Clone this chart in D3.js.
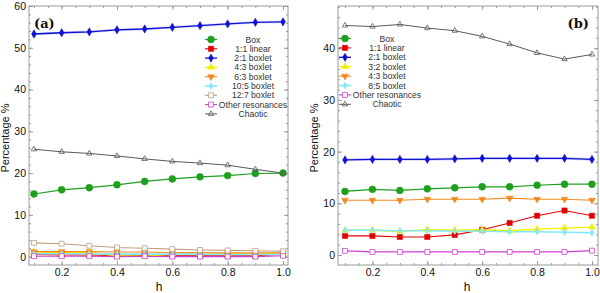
<!DOCTYPE html>
<html><head><meta charset="utf-8">
<script src="https://cdn.jsdelivr.net/npm/d3@7"></script>
<style>body{margin:0;background:#fff} svg{display:block}</style>
</head><body><svg id="c" width="600" height="293"></svg>
<script>
// ---------- data ----------
const hValues = [0.1,0.2,0.3,0.4,0.5,0.6,0.7,0.8,0.9,1.0];
const xTickLabels = [0.2,0.4,0.6,0.8,1.0];
const leftYTicks = [0,10,20,30,40,50,60];
const rightYTicks = [0,10,20,30,40];

const leftNames = ["Box","1:1 linear","2:1 boxlet","4:3 boxlet","6:3 boxlet","10:5 boxlet","12:7 boxlet","Other resonances","Chaotic"];
const leftBox       = [15.0,16.0,16.5,17.2,18.0,18.6,19.1,19.4,19.9,20.0];
const leftLinear11  = [0.5,0.4,0.4,0.2,0.3,0.2,0.2,0.2,0.2,0.6];
const leftBoxlet21  = [53.3,53.6,53.8,54.3,54.5,54.9,55.3,55.7,56.1,56.2];
const leftBoxlet43  = [1.1,1.0,1.0,0.2,0.1,0.6,0.7,0.7,0.7,0.8];
const leftBoxlet63  = [1.2,1.2,1.2,1.1,1.1,1.0,1.0,0.9,0.9,0.9];
const leftBoxlet105 = [0.7,0.7,0.7,0.6,0.6,0.6,0.6,0.5,0.5,0.5];
const leftBoxlet127 = [3.3,3.1,2.6,2.2,2.0,1.8,1.6,1.5,1.4,1.3];
const leftOther     = [0.1,0.1,0.1,0.0,0.1,0.0,0.0,0.0,0.0,0.2];
const leftChaotic   = [25.7,25.1,24.7,24.1,23.4,22.8,22.4,21.9,20.9,20.0];

const rightNames = ["Box","1:1 linear","2:1 boxlet","3:2 boxlet","4:3 boxlet","8:5 boxlet","Other resonances","Chaotic"];
const rightBox      = [12.3,12.7,12.5,12.8,13.0,13.2,13.2,13.5,13.7,13.7];
const rightLinear11 = [3.7,3.7,3.5,3.5,3.9,4.9,6.2,7.6,8.6,7.6];
const rightBoxlet21 = [18.4,18.5,18.5,18.5,18.6,18.7,18.7,18.7,18.7,18.5];
const rightBoxlet32 = [4.8,4.8,4.6,4.9,4.8,4.9,4.7,5.0,5.2,5.4];
const rightBoxlet43 = [10.6,10.6,10.6,10.8,10.8,10.8,11.0,10.8,10.8,10.6];
const rightBoxlet85 = [4.8,4.8,4.7,4.7,4.6,4.6,4.5,4.5,4.4,4.3];
const rightOther    = [0.8,0.6,0.6,0.6,0.6,0.6,0.6,0.6,0.6,0.85];
const rightChaotic  = [44.4,44.2,44.6,43.9,43.4,42.3,40.8,39.1,37.9,38.8];

// ---------- styles ----------
const ST = {
  box:   {color:"#1ea01e", sym:d3.symbolCircle,   size:38, fill:true,  lw:1.2},
  lin:   {color:"#e00000", sym:d3.symbolSquare,   size:28, fill:true,  lw:1.1},
  b21:   {color:"#1010d0", sym:d3.symbolDiamond,  size:20, fill:true,  lw:1.3},
  yel:   {color:"#f0f000", sym:d3.symbolTriangle, size:20, fill:true,  lw:1.4},
  ora:   {color:"#f08a20", sym:d3.symbolTriangle, size:20, fill:true,  lw:1.1, rot:180},
  cya:   {color:"#80e8ff", sym:d3.symbolDiamond,  size:14, fill:true,  lw:1.6},
  tan:   {color:"#c0a080", sym:d3.symbolSquare,   size:24, fill:false, lw:1.1},
  mag:   {color:"#d040d0", sym:d3.symbolSquare,   size:24, fill:false, lw:1.1},
  cha:   {color:"#5a5a5a", sym:d3.symbolTriangle, size:13, fill:false, lw:1.0, hollow:true}
};

const panels = [
  {x0:29, x1:288, y0:6, y1:265, xDom:[0.082,1.018], yDom:[-2,60], yTicks:leftYTicks,
   label:"(a)", labelX:34, labelAnchor:"start",
   legX:211, legTextX:253, legY:39.5, legDy:9.3,
   series:[
     {name:leftNames[0], v:leftBox, st:ST.box},
     {name:leftNames[1], v:leftLinear11, st:ST.lin},
     {name:leftNames[2], v:leftBoxlet21, st:ST.b21},
     {name:leftNames[3], v:leftBoxlet43, st:ST.yel},
     {name:leftNames[4], v:leftBoxlet63, st:ST.ora},
     {name:leftNames[5], v:leftBoxlet105, st:ST.cya},
     {name:leftNames[6], v:leftBoxlet127, st:ST.tan},
     {name:leftNames[7], v:leftOther, st:ST.mag},
     {name:leftNames[8], v:leftChaotic, st:ST.cha}
   ], titleX:9, hX:159},
  {x0:338, x1:598, y0:6, y1:265, xDom:[0.0745,1.022], yDom:[-1.93,48.17], yTicks:rightYTicks,
   label:"(b)", labelX:589, labelAnchor:"end",
   legX:345, legTextX:387, legY:38.5, legDy:9.4,
   series:[
     {name:rightNames[0], v:rightBox, st:ST.box},
     {name:rightNames[1], v:rightLinear11, st:ST.lin},
     {name:rightNames[2], v:rightBoxlet21, st:ST.b21},
     {name:rightNames[3], v:rightBoxlet32, st:ST.yel},
     {name:rightNames[4], v:rightBoxlet43, st:ST.ora},
     {name:rightNames[5], v:rightBoxlet85, st:ST.cya},
     {name:rightNames[6], v:rightOther, st:ST.mag},
     {name:rightNames[7], v:rightChaotic, st:ST.cha}
   ], titleX:318, hX:467}
];

const svg = d3.select("#c");
const FONT = "'Liberation Sans', Arial, Helvetica, sans-serif";
const FRAME = "#9a9a9a";

function drawMarker(g, st, x, y) {
  const p = d3.symbol().type(st.sym).size(st.size)();
  g.append("path").attr("d", p)
    .attr("transform", `translate(${x},${y})` + (st.rot ? ` rotate(${st.rot})` : ""))
    .attr("fill", st.fill ? st.color : (st.hollow ? "none" : "#fff"))
    .attr("stroke", st.color).attr("stroke-width", st.fill ? 0.5 : 0.8);
}

panels.forEach(P => {
  const x = d3.scaleLinear().domain(P.xDom).range([P.x0, P.x1]);
  const y = d3.scaleLinear().domain(P.yDom).range([P.y1, P.y0]);
  const g = svg.append("g");

  // minor ticks
  const xMinor = d3.range(0.1, 1.0001, 0.05).filter(t => t >= P.xDom[0] && t <= P.xDom[1]);
  const yMinor = d3.range(0, P.yDom[1] + 0.001, 2);
  const axes = [
    [d3.axisBottom(x), P.y1, "x"], [d3.axisTop(x), P.y0, "x"],
    [d3.axisLeft(y), P.x0, "y"], [d3.axisRight(y), P.x1, "y"]
  ];
  axes.forEach(([ax, pos, dir]) => {
    const tr = dir === "x" ? `translate(0,${pos})` : `translate(${pos},0)`;
    g.append("g").attr("transform", tr)
      .call(ax.tickValues(dir === "x" ? xMinor : yMinor).tickSize(-2).tickFormat(""))
      .call(s => { s.select(".domain").remove(); s.selectAll("line").attr("stroke", FRAME); });
  });
  const xb = g.append("g").attr("transform", `translate(0,${P.y1})`)
    .call(d3.axisBottom(x).tickValues(xTickLabels).tickSize(-4).tickPadding(4).tickFormat(d3.format(".1f")));
  const xt = g.append("g").attr("transform", `translate(0,${P.y0})`)
    .call(d3.axisTop(x).tickValues(xTickLabels).tickSize(-4).tickFormat(""));
  const yl = g.append("g").attr("transform", `translate(${P.x0},0)`)
    .call(d3.axisLeft(y).tickValues(P.yTicks).tickSize(-4).tickPadding(3).tickFormat(d3.format("d")));
  const yr = g.append("g").attr("transform", `translate(${P.x1},0)`)
    .call(d3.axisRight(y).tickValues(P.yTicks).tickSize(-4).tickFormat(""));
  [xb, xt, yl, yr].forEach(s => {
    s.select(".domain").remove();
    s.selectAll("line").attr("stroke", FRAME);
    s.selectAll("text").attr("font-family", FONT).attr("font-size", 10.5).attr("fill", "#111");
  });

  // frame
  g.append("rect").attr("x", P.x0).attr("y", P.y0)
    .attr("width", P.x1 - P.x0).attr("height", P.y1 - P.y0)
    .attr("fill", "none").attr("stroke", FRAME).attr("stroke-width", 1);

  // series
  const line = d3.line().x((d, i) => x(hValues[i])).y(d => y(d));
  P.series.forEach(s => {
    if (s.st === ST.b21) {
      g.append("path").attr("d", line(s.v)).attr("fill", "none")
        .attr("stroke", "#a0a0ff").attr("stroke-width", 2.6).attr("opacity", 0.45);
    }
    g.append("path").attr("d", line(s.v)).attr("fill", "none")
      .attr("stroke", s.st.color).attr("stroke-width", s.st.lw);
  });
  P.series.forEach(s => {
    s.v.forEach((d, i) => drawMarker(g, s.st, x(hValues[i]), y(d)));
  });

  // legend
  P.series.forEach((s, i) => {
    const ly = P.legY + i * P.legDy;
    g.append("line").attr("x1", P.legX - 6).attr("x2", P.legX + 6)
      .attr("y1", ly).attr("y2", ly).attr("stroke", s.st.color).attr("stroke-width", s.st.lw);
    drawMarker(g, s.st, P.legX, ly);
    g.append("text").attr("x", P.legTextX).attr("y", ly + 3)
      .attr("text-anchor", "middle").attr("font-family", FONT).attr("font-size", 8.6)
      .attr("fill", "#333").text(s.name);
  });

  // panel label
  g.append("text").attr("x", P.labelX).attr("y", 28).attr("text-anchor", P.labelAnchor)
    .attr("font-family", "'DejaVu Serif', 'Liberation Serif', serif").attr("font-weight", "bold")
    .attr("font-size", 13).attr("fill", "#111").text(P.label);

  // axis titles
  g.append("text").attr("transform", `translate(${P.titleX},138) rotate(-90)`)
    .attr("text-anchor", "middle").attr("font-family", FONT).attr("font-size", 11)
    .attr("fill", "#111").text("Percentage %");
  g.append("text").attr("x", P.hX).attr("y", 291).attr("text-anchor", "middle")
    .attr("font-family", FONT).attr("font-size", 12).attr("fill", "#111").text("h");
});
</script></body></html>
